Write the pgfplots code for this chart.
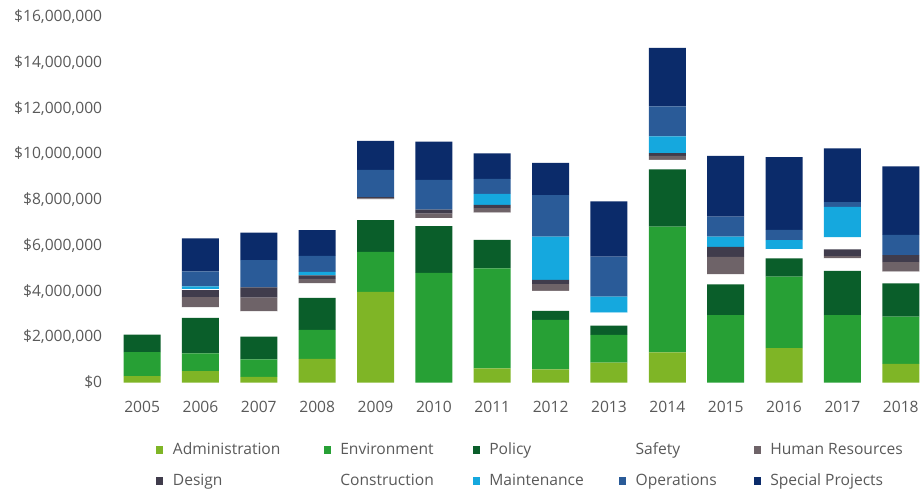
\documentclass[border=0pt]{standalone}
\usepackage{pgfplots}
\pgfplotsset{compat=1.18}
\usepackage{pgfplotstable}
\usepackage{fontspec}
\setmainfont{Open Sans}
\definecolor{txt}{HTML}{595959}
\definecolor{cadm}{HTML}{7FB526}
\definecolor{cenv}{HTML}{27A035}
\definecolor{cpol}{HTML}{0A5E2A}
\definecolor{csaf}{HTML}{FFFFFF}
\definecolor{chr}{HTML}{6E6368}
\definecolor{cdes}{HTML}{403C4C}
\definecolor{ccon}{HTML}{FFFFFF}
\definecolor{cmai}{HTML}{15A8DE}
\definecolor{cops}{HTML}{2A5B98}
\definecolor{csp}{HTML}{0B2B6A}
% values in millions of dollars
\pgfplotstableread{
x  adm  env  pol  saf  hr   des  con  mai  ops  sp
0  0.28 1.05 0.76 0    0    0    0    0    0    0
1  0.50 0.77 1.56 0.46 0.45 0.30 0.05 0.12 0.65 1.45
2  0.25 0.76 1.00 1.10 0.60 0.45 0    0    1.20 1.20
3  1.03 1.27 1.40 0.64 0.20 0.15 0    0.15 0.70 1.13
4  3.97 1.75 1.39 0.90 0.05 0.05 0    0    1.20 1.27
5  0    4.80 2.04 0.35 0.20 0.18 0    0    1.30 1.67
6  0.62 4.38 1.24 1.19 0.20 0.14 0    0.48 0.66 1.12
7  0.58 2.16 0.39 0.88 0.30 0.18 0    1.89 1.82 1.41
8  0.87 1.21 0.41 0.57 0    0    0    0.70 1.75 2.42
9  1.32 5.50 2.51 0.41 0.18 0.12 0    0.73 1.31 2.56
10 0    2.95 1.34 0.44 0.77 0.44 0    0.44 0.88 2.66
11 1.50 3.13 0.80 0.41 0    0    0    0.39 0.45 3.18
12 0    2.95 1.93 0.55 0.10 0.30 0.52 1.34 0.20 2.36
13 0.81 2.07 1.46 0.51 0.42 0.31 0    0    0.88 3.00
}\data
\begin{document}
\fontsize{15.6pt}{18pt}\selectfont
\begin{tikzpicture}
\useasboundingbox (0,0) rectangle (920pt,493pt);
\begin{axis}[
  at={(110pt,110.5pt)}, anchor=south west,
  scale only axis, width=810pt, height=382.5pt,
  xmin=-0.55, xmax=13.33, ymin=0, ymax=16.74,
  ybar stacked, bar width=37pt,
  axis line style={draw=none}, major tick length=0pt,
  xtick={0,...,13},
  xticklabels={2005,2006,2007,2008,2009,2010,2011,2012,2013,2014,2015,2016,2017,2018},
  ytick={0,2,...,16},
  yticklabels={\$0,{\$2,000,000},{\$4,000,000},{\$6,000,000},{\$8,000,000},{\$10,000,000},{\$12,000,000},{\$14,000,000},{\$16,000,000}},
  tick label style={font=\fontsize{15.6pt}{18pt}\selectfont, text=txt},
  xticklabel style={anchor=base, yshift=-30.1pt},
  yticklabel style={anchor=east, xshift=-2.5pt},
  legend columns=5,
  legend cell align=left,
  legend image code/.code={\fill[#1] (0pt,-3.5pt) rectangle (7pt,4.5pt);},
  legend style={
    at={(0.0573,-0.1571)}, anchor=north west, draw=none, fill=none,
    inner sep=0pt, outer sep=0pt,
    font=\fontsize{15.6pt}{18pt}\selectfont, text=txt,
    nodes={text height=12pt, text depth=4pt, inner sep=0pt},
    row sep=15pt,
    /tikz/every odd column/.append style={column sep=9.5pt},
    /tikz/column 2/.append style={column sep=43.3pt},
    /tikz/column 4/.append style={column sep=39pt},
    /tikz/column 6/.append style={column sep=35.2pt},
    /tikz/column 8/.append style={column sep=37.1pt},
  },
]
\addplot[fill=cadm, draw=none] table[x=x, y=adm] {\data};
\addplot[fill=cenv, draw=none] table[x=x, y=env] {\data};
\addplot[fill=cpol, draw=none] table[x=x, y=pol] {\data};
\addplot[fill=csaf, draw=none] table[x=x, y=saf] {\data};
\addplot[fill=chr, draw=none] table[x=x, y=hr] {\data};
\addplot[fill=cdes, draw=none] table[x=x, y=des] {\data};
\addplot[fill=ccon, draw=none] table[x=x, y=con] {\data};
\addplot[fill=cmai, draw=none] table[x=x, y=mai] {\data};
\addplot[fill=cops, draw=none] table[x=x, y=ops] {\data};
\addplot[fill=csp, draw=none] table[x=x, y=sp] {\data};
\legend{Administration,Environment,Policy,Safety,Human Resources,Design,Construction,Maintenance,Operations,Special Projects}
\end{axis}
\end{tikzpicture}
\end{document}
